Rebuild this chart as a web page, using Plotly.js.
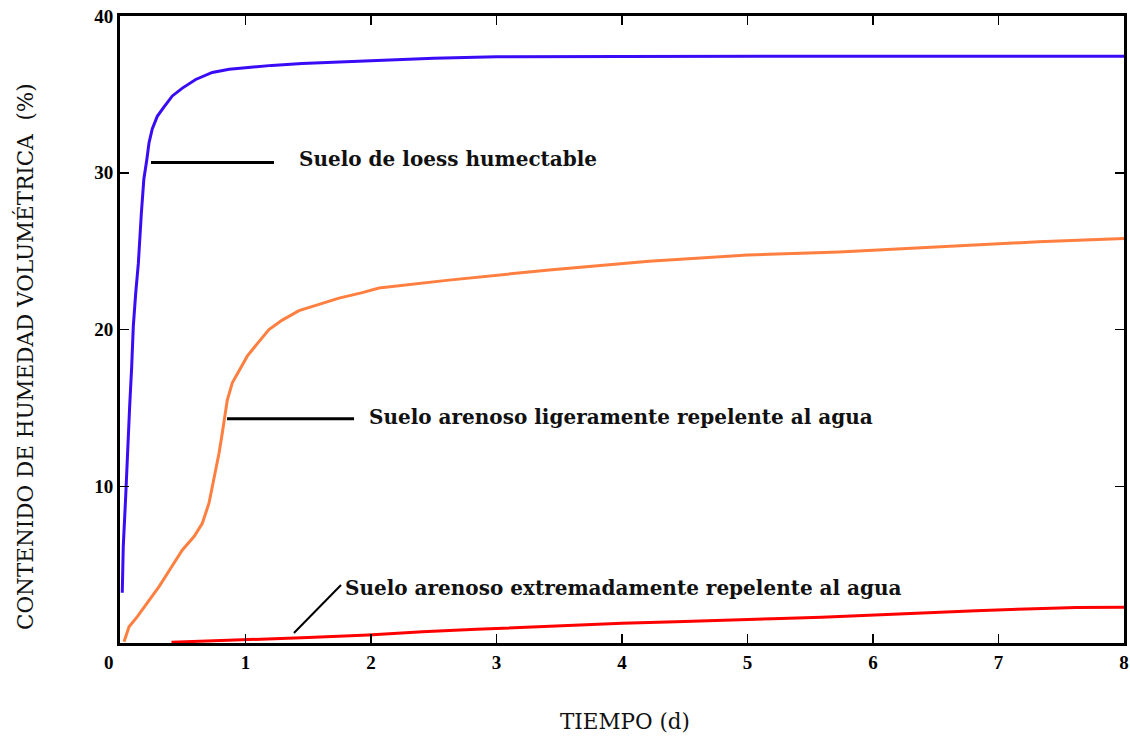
<!DOCTYPE html>
<html>
<head>
<meta charset="utf-8">
<script src="https://cdn.plot.ly/plotly-3.0.1.min.js"></script>
<style>html,body{margin:0;padding:0;background:#fff}#chart{width:1130px;height:736px}</style>
</head>
<body>
<div id="chart"></div>
<script>
// Loess soil (wettable)
const loessX = [0.018, 0.026, 0.045, 0.058, 0.077, 0.093, 0.106, 0.125, 0.146, 0.17, 0.19, 0.213, 0.231, 0.257, 0.297, 0.351, 0.417, 0.497, 0.603, 0.735, 0.87, 1.0, 1.21, 1.45, 1.67, 2.0, 2.5, 3.0, 4.0, 5.0, 6.0, 7.0, 8.0];
const loessY = [3.2, 6.15, 9.3, 12.1, 15.1, 17.6, 20.2, 22.3, 24.2, 27.4, 29.6, 30.8, 31.9, 32.8, 33.6, 34.2, 34.9, 35.4, 35.95, 36.4, 36.6, 36.7, 36.85, 36.97, 37.05, 37.15, 37.3, 37.4, 37.42, 37.43, 37.43, 37.44, 37.44];
// Slightly water-repellent sandy soil
const slightX = [0.032, 0.072, 0.138, 0.205, 0.311, 0.404, 0.497, 0.59, 0.656, 0.709, 0.749, 0.789, 0.815, 0.834, 0.855, 0.895, 0.948, 1.014, 1.094, 1.187, 1.293, 1.426, 1.586, 1.745, 1.931, 2.064, 2.62, 3.42, 4.215, 5.0, 5.73, 6.53, 7.32, 8.0];
const slightY = [0.08, 1.04, 1.68, 2.43, 3.6, 4.77, 5.94, 6.79, 7.64, 8.92, 10.4, 12.1, 13.4, 14.45, 15.5, 16.6, 17.4, 18.3, 19.1, 20.0, 20.6, 21.2, 21.6, 22.0, 22.35, 22.65, 23.15, 23.8, 24.35, 24.75, 24.95, 25.3, 25.6, 25.8];
// Extremely water-repellent sandy soil
const extremeX = [0.41, 1.0, 1.5, 1.98, 2.41, 2.84, 3.2, 3.63, 4.0, 4.43, 4.83, 5.2, 5.59, 5.99, 6.42, 6.82, 7.22, 7.62, 8.0];
const extremeY = [0.05, 0.2, 0.35, 0.51, 0.72, 0.87, 1.0, 1.15, 1.26, 1.36, 1.48, 1.55, 1.64, 1.79, 1.93, 2.06, 2.17, 2.26, 2.28];

const xTicks = [1, 2, 3, 4, 5, 6, 7, 8];
const yTicks = [10, 20, 30, 40];
const labels = ["Suelo de loess humectable", "Suelo arenoso ligeramente repelente al agua", "Suelo arenoso extremadamente repelente al agua"];

const serif = "'DejaVu Serif', 'Liberation Serif', serif";
const tickFont = {family: "'Liberation Serif', serif", size: 19, color: '#000', weight: 'bold'};
const labelFont = {family: serif, size: 20, color: '#111', weight: 'bold'};
const titleFont = {family: serif, size: 21.5, color: '#111'};

const traces = [
  {x: loessX, y: loessY, mode: 'lines', line: {color: '#3a0cf5', width: 3}, hoverinfo: 'skip'},
  {x: slightX, y: slightY, mode: 'lines', line: {color: '#ff7f40', width: 3}, hoverinfo: 'skip'},
  {x: extremeX, y: extremeY, mode: 'lines', line: {color: '#ff0000', width: 3}, hoverinfo: 'skip'}
];

const layout = {
  width: 1130, height: 736,
  margin: {l: 120, r: 6, t: 16, b: 93},
  paper_bgcolor: '#fff', plot_bgcolor: '#fff',
  showlegend: false,
  xaxis: {range: [0, 8], tickvals: xTicks, ticks: 'inside', ticklen: 9, tickwidth: 1.5, tickcolor: '#000',
    showline: true, linewidth: 3, linecolor: '#000', mirror: 'ticks', showgrid: false, zeroline: false,
    tickfont: tickFont, fixedrange: true},
  yaxis: {range: [0, 40], tickvals: yTicks, ticks: 'inside', ticklen: 9, tickwidth: 1.5, tickcolor: '#000',
    showline: true, linewidth: 3, linecolor: '#000', mirror: 'ticks', showgrid: false, zeroline: false,
    tickfont: tickFont, fixedrange: true},
  shapes: [
    {type: 'line', xref: 'x', yref: 'y', x0: 0.247, y0: 30.65, x1: 1.227, y1: 30.65, line: {color: '#000', width: 3}},
    {type: 'line', xref: 'x', yref: 'y', x0: 0.853, y0: 14.3, x1: 1.865, y1: 14.3, line: {color: '#000', width: 3}},
    {type: 'line', xref: 'x', yref: 'y', x0: 1.386, y0: 0.64, x1: 1.761, y1: 3.7, line: {color: '#000', width: 2}}
  ],
  annotations: [
    {x: 1.41, y: 30.85, xref: 'x', yref: 'y', text: labels[0], showarrow: false, xanchor: 'left', yanchor: 'middle', font: labelFont},
    {x: 1.968, y: 14.4, xref: 'x', yref: 'y', text: labels[1], showarrow: false, xanchor: 'left', yanchor: 'middle', font: labelFont},
    {x: 1.777, y: 3.5, xref: 'x', yref: 'y', text: labels[2], showarrow: false, xanchor: 'left', yanchor: 'middle', font: labelFont},
    {x: 0, y: 0, xref: 'x', yref: 'y', text: '0', showarrow: false, xanchor: 'center', yanchor: 'top', xshift: -11, yshift: -7, font: tickFont},
    {x: (625 - 120) / 1004, y: (643 - 721) / 627, xref: 'paper', yref: 'paper', text: 'TIEMPO (d)', showarrow: false, xanchor: 'center', yanchor: 'middle', font: titleFont},
    {x: (25 - 120) / 1004, y: (643 - 357) / 627, xref: 'paper', yref: 'paper', text: 'CONTENIDO DE HUMEDAD VOLUMÉTRICA  (%)', textangle: -90, showarrow: false, xanchor: 'center', yanchor: 'middle', font: titleFont}
  ]
};

Plotly.newPlot('chart', traces, layout, {displayModeBar: false, staticPlot: true});
</script>
</body>
</html>
